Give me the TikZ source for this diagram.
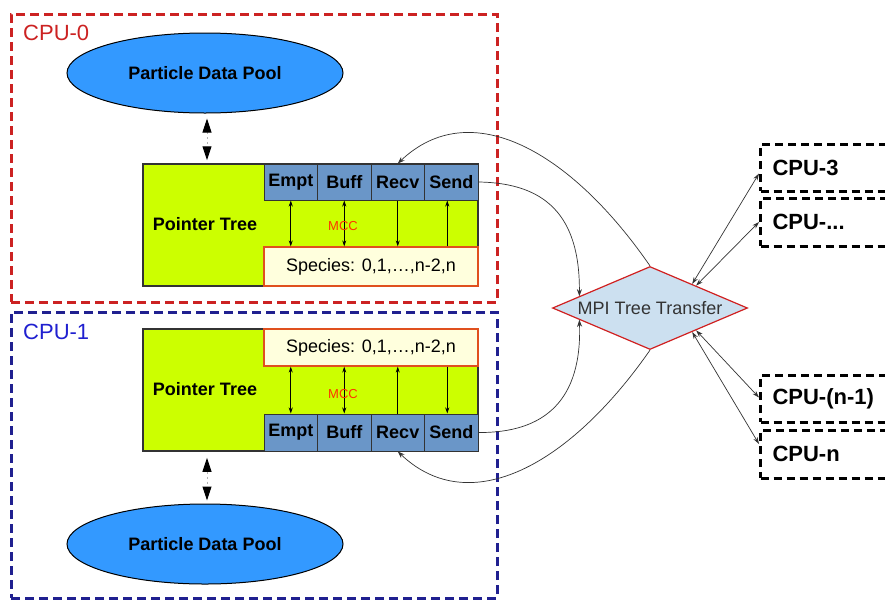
\documentclass[tikz,border=0pt]{standalone}
\usepackage{fontspec}
\setmainfont{Liberation Sans}
\usetikzlibrary{shapes.geometric,arrows.meta,calc}
\definecolor{poolblue}{HTML}{3399FF}
\definecolor{treegreen}{HTML}{CCFF00}
\definecolor{cellblue}{HTML}{6A96C8}
\definecolor{specfill}{HTML}{FFFFDD}
\definecolor{specborder}{HTML}{E0501E}
\definecolor{diafill}{HTML}{CCE0F0}
\definecolor{diared}{HTML}{D02020}
\definecolor{cpured}{HTML}{CC2222}
\definecolor{cpublue}{HTML}{202090}
\definecolor{lblblue}{HTML}{2020D0}
\definecolor{mccred}{HTML}{FF3300}
\begin{document}
\begin{tikzpicture}[x=1pt,y=-1pt,
  pool/.style={ellipse, draw=black, line width=1pt, fill=poolblue, minimum width=276pt, minimum height=80pt, inner sep=0pt, font=\fontsize{18}{20}\selectfont\bfseries},
  treebox/.style={draw=black!80, line width=1.5pt, fill=treegreen, minimum width=335pt, minimum height=122pt, inner sep=0pt},
  treelbl/.style={inner sep=0pt, font=\fontsize{18}{20}\selectfont\bfseries},
  cell/.style={draw=black!80, line width=1pt, fill=cellblue, minimum width=53.5pt, minimum height=36pt, inner sep=0pt, font=\fontsize{18}{20}\selectfont\bfseries},
  species/.style={draw=specborder, line width=1.2pt, fill=specfill, minimum width=214pt, inner sep=0pt, font=\fontsize{18}{20}\selectfont},
  mcc/.style={inner sep=0pt, text=mccred, font=\fontsize{13}{14}\selectfont},
  inarrow/.style={draw=black, line width=0.8pt, arrows={Stealth[length=6pt,width=4pt]-Stealth[length=6pt,width=4pt]}},
  inone/.style={draw=black, line width=0.8pt, -{Stealth[length=6pt,width=4pt]}},
  pooldash/.style={draw=black!30, line width=1pt, dash pattern=on 2pt off 3pt, {Triangle[length=14pt,width=9pt,color=black]}-{Triangle[length=14pt,width=9pt,color=black]}},
  cpubig/.style={line width=3pt, dash pattern=on 9pt off 5pt, inner sep=0pt},
  cpulbl/.style={inner sep=0pt, anchor=west, font=\fontsize{22}{24}\selectfont},
  cpubox/.style={draw=black, line width=3pt, dash pattern=on 8pt off 5pt, anchor=west, minimum width=150pt, text width=126pt, inner xsep=12pt, inner ysep=0pt, align=left, font=\fontsize{22}{24}\selectfont\bfseries},
  conn/.style={draw=black!80, line width=0.7pt, -{Stealth[length=7pt,width=5pt]}},
  biconn/.style={draw=black!80, line width=0.7pt, {Stealth[length=7pt,width=4.5pt]}-{Stealth[length=7pt,width=4.5pt]}}
]
\useasboundingbox (0,0) rectangle (885,600);
\clip (0,0) rectangle (885,600);
\fill[white] (0,0) rectangle (885,600);

% CPU containers
\node[cpubig, draw=cpured, minimum width=486pt, minimum height=288pt] (cpu0) at (254,158) {};
\node[cpubig, draw=cpublue, minimum width=486pt, minimum height=286pt] (cpu1) at (254,455) {};
\node[cpulbl, text=cpured] (lbl0) at (23,33) {CPU-0};
\node[cpulbl, text=lblblue] (lbl1) at (23,332) {CPU-1};

% pools
\node[pool] (pool0) at (205,73) {Particle Data Pool};
\node[pool] (pool1) at (205,544) {Particle Data Pool};

% tree 0
\node[treebox] (pt0) at (310.5,225) {};
\node[treelbl] (ptl0) at (205,224) {Pointer Tree};
\node[cell] (empt0) at (290.75,182) {Empt};
\node[cell] (buff0) at (344.25,182) {Buff};
\node[cell] (recv0) at (397.75,182) {Recv};
\node[cell] (send0) at (451.25,182) {Send};
\node[species, minimum height=39pt] (sp0) at (371,266.5) {Species: 0,1,\dots,n-2,n};
\draw[inarrow] (empt0.south) -- (empt0.south |- sp0.north);
\draw[inarrow] (buff0.south) -- (buff0.south |- sp0.north);
\draw[inone] (recv0.south) -- (recv0.south |- sp0.north);
\draw[inone] ($(send0.south |- sp0.north)+(-4,0)$) -- ($(send0.south)+(-4,0)$);
\node[mcc] (mcc0) at (343,226) {MCC};

% tree 1
\node[treebox] (pt1) at (310.5,390) {};
\node[treelbl] (ptl1) at (205,389) {Pointer Tree};
\node[cell, minimum height=37pt] (empt1) at (290.75,432.5) {Empt};
\node[cell, minimum height=37pt] (buff1) at (344.25,432.5) {Buff};
\node[cell, minimum height=37pt] (recv1) at (397.75,432.5) {Recv};
\node[cell, minimum height=37pt] (send1) at (451.25,432.5) {Send};
\node[species, minimum height=37pt] (sp1) at (371,347.5) {Species: 0,1,\dots,n-2,n};
\draw[inarrow] (empt1.north) -- (empt1.north |- sp1.south);
\draw[inarrow] (buff1.north) -- (buff1.north |- sp1.south);
\draw[inone] (recv1.north) -- (recv1.north |- sp1.south);
\draw[inone] ($(send1.north |- sp1.south)+(-4,0)$) -- ($(send1.north)+(-4,0)$);
\node[mcc] (mcc1) at (343,394) {MCC};

% pool <-> tree
\draw[pooldash] ($(pool0.south)+(2,5)$) -- ($(pool0.south |- pt0.north)+(2,-3)$);
\draw[pooldash] ($(pool1.north |- pt1.south)+(2,6)$) -- ($(pool1.north)+(2,-3)$);

% MPI diamond
\node[diamond, draw=diared, line width=1.2pt, fill=diafill, aspect=2.35, minimum width=195pt, minimum height=83pt, inner sep=0pt, text=black!80, font=\fontsize{18}{20}\selectfont] (mpi) at (650,308) {MPI Tree Transfer};
\coordinate (mpiUL) at ($(mpi.west)!0.28!(mpi.north)$);
\coordinate (mpiLL) at ($(mpi.west)!0.28!(mpi.south)$);
\coordinate (ur1) at ($(mpi.north)!0.43!(mpi.east)$);
\coordinate (ur2) at ($(mpi.north)!0.47!(mpi.east)$);
\coordinate (lr1) at ($(mpi.south)!0.47!(mpi.east)$);
\coordinate (lr2) at ($(mpi.south)!0.43!(mpi.east)$);

% right CPU boxes
\node[cpubox, minimum height=47pt] (cpu3) at (759,167.5) {CPU-3};
\node[cpubox, minimum height=48pt] (cpudots) at (759,222) {CPU-...};
\node[cpubox, minimum height=47pt] (cpun1) at (759,398.5) {CPU-(n-1)};
\node[cpubox, minimum height=48pt] (cpun) at (759,454) {CPU-n};

% curved connectors
\draw[conn] (send0.east) .. controls (545,183) and (580,215) .. (mpiUL);
\draw[conn] (mpi.north) .. controls (570,150) and (470,95) .. (recv0.north);
\draw[conn] (send1.east) .. controls (545,433) and (582,400) .. (mpiLL);
\draw[conn] (mpi.south) .. controls (570,465) and (470,520) .. (recv1.south);

% right connectors
\draw[biconn] (ur1) -- ($(cpu3.west)+(0,6)$);
\draw[biconn] (ur2) -- (cpudots.west);
\draw[biconn] (lr1) -- ($(cpun1.west)+(0,-1)$);
\draw[biconn] (lr2) -- ($(cpun.west)+(0,-10)$);
\end{tikzpicture}
\end{document}
